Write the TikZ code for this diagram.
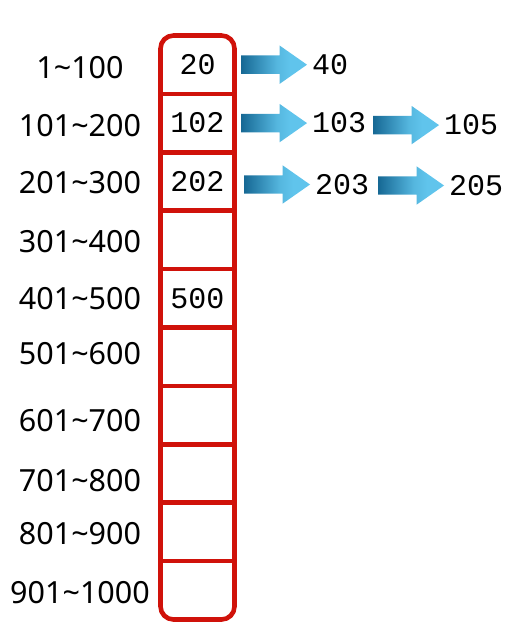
\documentclass[tikz,border=0pt]{standalone}
\usepackage{fontspec}
\setmainfont{Noto Sans}
\newfontfamily\digitfont{Liberation Mono}
\usetikzlibrary{positioning,shapes.arrows}
\definecolor{red}{RGB}{208,18,10}
\definecolor{darkblue}{RGB}{22,104,148}
\definecolor{lightblue}{RGB}{96,196,236}
\pgfdeclarehorizontalshading{arrowshade}{100bp}{color(0bp)=(darkblue); color(25bp)=(darkblue); color(52bp)=(lightblue!85!darkblue); color(62bp)=(lightblue); color(100bp)=(lightblue)}

\begin{document}
\begin{tikzpicture}[x=1pt, y=-1pt, font=\fontsize{30.5}{36}\selectfont,
  cell/.style={minimum width=74pt, minimum height=58.4pt, inner sep=0, outer sep=0, font=\digitfont\fontsize{30}{34}\selectfont},
  val/.style={inner sep=0, outer sep=0, font=\digitfont\fontsize{30}{34}\selectfont},
  flow/.style={single arrow, shading=arrowshade, draw=none, minimum height=66pt, single arrow head extend=10pt, single arrow tip angle=70, inner xsep=0, inner ysep=9pt, outer sep=0}]
\useasboundingbox (0,0) rectangle (509,634);
% bucket cells
\node[cell] (c1) at (197.5,64.7) {20};
\node[cell, below=0pt of c1] (c2) {102};
\node[cell, below=0pt of c2] (c3) {202};
\node[cell, below=0pt of c3] (c4) {};
\node[cell, below=0pt of c4] (c5) {500};
\node[cell, below=0pt of c5] (c6) {};
\node[cell, below=0pt of c6] (c7) {};
\node[cell, below=0pt of c7] (c8) {};
\node[cell, below=0pt of c8] (c9) {};
\node[cell, below=0pt of c9] (c10) {};
\draw[red, line width=4.6pt, rounded corners=13pt] (c1.north west) rectangle (c10.south east);
\foreach \i in {1,...,9}
  \draw[red, line width=4.6pt] (c\i.south west) -- (c\i.south east);
% ranges
\foreach \t/\y [count=\i] in {1\textasciitilde100/68, 101\textasciitilde200/126, 201\textasciitilde300/183, 301\textasciitilde400/241.5, 401\textasciitilde500/298.5, 501\textasciitilde600/353.5, 601\textasciitilde700/421, 701\textasciitilde800/481, 801\textasciitilde900/534, 901\textasciitilde1000/592.5}
  \node[inner sep=0] (l\i) at (80,\y) {\t};
% chains
\node[flow, right=6.5pt of c1] (a1) {};
\node[val, right=5pt of a1] (v1) {40};
\node[flow, right=6.5pt of c2] (a2) {};
\node[val, right=5pt of a2] (v2) {103};
\node[flow, right=7pt of v2, yshift=-2pt] (a3) {};
\node[val, right=5pt of a3] (v3) {105};
\node[flow, right=9.5pt of c3, yshift=-3pt] (a4) {};
\node[val, right=5pt of a4] (v4) {203};
\node[flow, right=9pt of v4, yshift=-1pt] (a5) {};
\node[val, right=5pt of a5] (v5) {205};
\end{tikzpicture}
\end{document}
